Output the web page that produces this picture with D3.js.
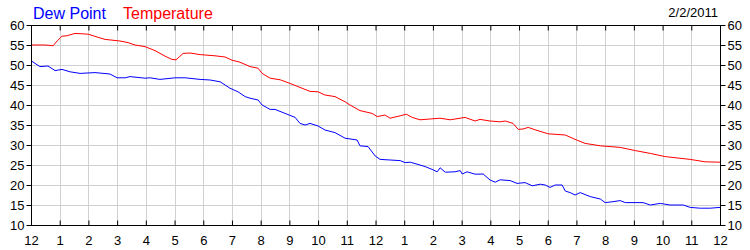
<!DOCTYPE html>
<html>
<head>
<meta charset="utf-8">
<script src="https://cdn.jsdelivr.net/npm/d3@7"></script>
<style>
  body { margin: 0; background: #fff; }
  text { font-family: Arial, "Liberation Sans", sans-serif; }
  .grid line { stroke: #d0d0d0; stroke-width: 1; }
</style>
</head>
<body>
<div id="chart"></div>
<script>
// hours since midnight (0..24) and readings
const tempHours = [0,0.49,0.66,0.77,0.91,1.08,1.25,1.53,1.78,1.99,2.30,2.58,3.10,3.38,3.62,3.97,4.32,4.67,4.91,5.05,5.16,5.30,5.54,5.89,6.41,6.76,7.00,7.28,7.63,7.91,8.05,8.33,8.68,9.02,9.37,9.72,10.0,10.24,10.59,10.94,11.11,11.46,11.88,12.06,12.33,12.51,12.86,13.07,13.28,13.55,13.90,14.25,14.60,15.12,15.47,15.64,15.99,16.34,16.52,16.79,16.97,17.14,17.32,17.56,18.01,18.61,18.99,19.30,19.83,20.52,21.05,21.57,22.09,22.96,23.48,24.0];
const tempValues = [55,55,54.9,54.8,56,57.2,57.3,57.9,57.8,57.7,57.0,56.4,56.0,55.6,55.0,54.6,53.6,52.2,51.4,51.3,52.0,52.9,53.0,52.6,52.3,52.0,51.2,50.7,49.6,49.2,47.9,46.7,46.3,45.4,44.4,43.4,43.3,42.5,42.1,40.8,40.0,38.6,37.9,37.1,37.5,36.7,37.3,37.7,36.9,36.3,36.5,36.7,36.3,36.9,36.0,36.4,36.0,35.8,36.0,35.4,33.9,34.0,34.4,33.8,32.8,32.5,31.3,30.4,29.8,29.4,28.6,27.9,27.1,26.4,25.8,25.7];

const dewHours = [0,0.14,0.31,0.59,0.84,1.08,1.36,1.71,2.23,2.75,3.00,3.28,3.45,3.97,4.15,4.49,5.02,5.37,5.89,6.24,6.59,6.76,6.93,7.21,7.46,7.63,7.91,8.05,8.33,8.50,8.85,9.20,9.37,9.55,9.72,10.0,10.24,10.59,10.94,11.36,11.46,11.74,11.99,12.16,12.51,12.86,13.03,13.21,13.55,13.73,13.97,14.15,14.25,14.43,14.77,14.95,15.02,15.19,15.47,15.75,15.99,16.17,16.34,16.69,16.93,17.21,17.46,17.74,17.91,18.08,18.26,18.50,18.61,18.78,18.95,19.13,19.48,19.83,20.0,20.24,20.52,20.70,21.32,21.57,21.92,22.26,22.72,22.96,23.31,23.66,24.0];
const dewValues = [51.1,50.4,49.6,49.75,48.6,48.9,48.3,47.9,48.1,47.75,46.8,46.8,47.1,46.7,46.8,46.4,46.8,46.8,46.4,46.25,45.8,45.0,44.2,43.3,42.1,41.7,41.25,40.0,38.9,38.9,37.9,36.9,35.4,35.0,35.4,34.75,33.75,33.1,31.7,31.25,29.8,29.6,27.25,26.4,26.25,26.1,25.6,25.7,25.0,24.6,23.9,23.3,24.3,23.2,23.3,23.6,22.75,23.3,22.7,22.75,21.25,20.7,21.3,21.1,20.4,20.6,19.8,20.2,20.0,19.4,20.0,20.0,18.5,18.1,17.5,18.1,17.1,16.5,15.6,15.8,16.1,15.6,15.6,15.0,15.4,15.0,15.0,14.4,14.2,14.2,14.4];

const hourLabels = ["12","1","2","3","4","5","6","7","8","9","10","11","12","1","2","3","4","5","6","7","8","9","10","11","12"];
const yTicks = [10,15,20,25,30,35,40,45,50,55,60];
const dateLabel = "2/2/2011";

const width = 750, height = 250;
const plotLeft = 31, plotRight = 720, plotTop = 25, plotBottom = 225;

const svg = d3.select("#chart").append("svg")
  .attr("width", width)
  .attr("height", height);

const x = d3.scaleLinear().domain([0, 24]).range([plotLeft, plotRight]);
const y = d3.scaleLinear().domain([10, 60]).range([plotBottom, plotTop]);

// grid
const grid = svg.append("g").attr("class", "grid");
grid.selectAll(".v").data(d3.range(1, 24)).enter().append("line")
  .attr("x1", d => Math.round(x(d)) + 0.5).attr("x2", d => Math.round(x(d)) + 0.5)
  .attr("y1", plotTop).attr("y2", plotBottom);
grid.selectAll(".h").data(yTicks.slice(1, -1)).enter().append("line")
  .attr("x1", plotLeft).attr("x2", plotRight)
  .attr("y1", d => Math.round(y(d)) + 0.5).attr("y2", d => Math.round(y(d)) + 0.5);

// lines
const line = d3.line().x(d => x(d[0])).y(d => y(d[1]));
svg.append("path")
  .datum(dewHours.map((h, i) => [h, dewValues[i]]))
  .attr("fill", "none").attr("stroke", "#0000ff").attr("stroke-width", 1)
  .attr("d", line);
svg.append("path")
  .datum(tempHours.map((h, i) => [h, tempValues[i]]))
  .attr("fill", "none").attr("stroke", "#ff0000").attr("stroke-width", 1)
  .attr("d", line);

// frame
svg.append("rect")
  .attr("x", plotLeft + 0.5).attr("y", plotTop + 0.5)
  .attr("width", plotRight - plotLeft).attr("height", plotBottom - plotTop)
  .attr("fill", "none").attr("stroke", "#000");

// axes
const xTickVals = d3.range(0, 25);
svg.append("g").attr("transform", `translate(0,${plotBottom + 0.5})`)
  .call(d3.axisBottom(x).tickValues(xTickVals).tickSizeInner(-5).tickSizeOuter(0)
    .tickFormat((d, i) => hourLabels[i]).tickPadding(10))
  .call(g => g.select(".domain").remove());
svg.append("g").attr("transform", `translate(0,${plotTop + 0.5})`)
  .call(d3.axisTop(x).tickValues(xTickVals).tickSizeInner(-5).tickSizeOuter(0).tickFormat(""))
  .call(g => g.select(".domain").remove());
svg.append("g").attr("transform", `translate(${plotLeft + 0.5},0)`)
  .call(d3.axisLeft(y).tickValues(yTicks).tickSizeInner(5).tickSizeOuter(0).tickPadding(2))
  .call(g => g.select(".domain").remove());
svg.append("g").attr("transform", `translate(${plotRight + 0.5},0)`)
  .call(d3.axisRight(y).tickValues(yTicks).tickSizeInner(5).tickSizeOuter(0).tickPadding(2))
  .call(g => g.select(".domain").remove());

svg.selectAll(".tick text")
  .attr("font-family", "Arial, 'Liberation Sans', sans-serif")
  .attr("font-size", 13).attr("fill", "#000");
svg.selectAll(".tick line").attr("stroke", "#000");

// legend
svg.append("text").attr("x", 33).attr("y", 19)
  .attr("font-size", 16).attr("fill", "#0000ff").text("Dew Point");
svg.append("text").attr("x", 123).attr("y", 19)
  .attr("font-size", 16).attr("fill", "#ff0000").text("Temperature");
svg.append("text").attr("x", 718).attr("y", 17).attr("text-anchor", "end")
  .attr("font-size", 13).attr("fill", "#000").text(dateLabel);
</script>
</body>
</html>
